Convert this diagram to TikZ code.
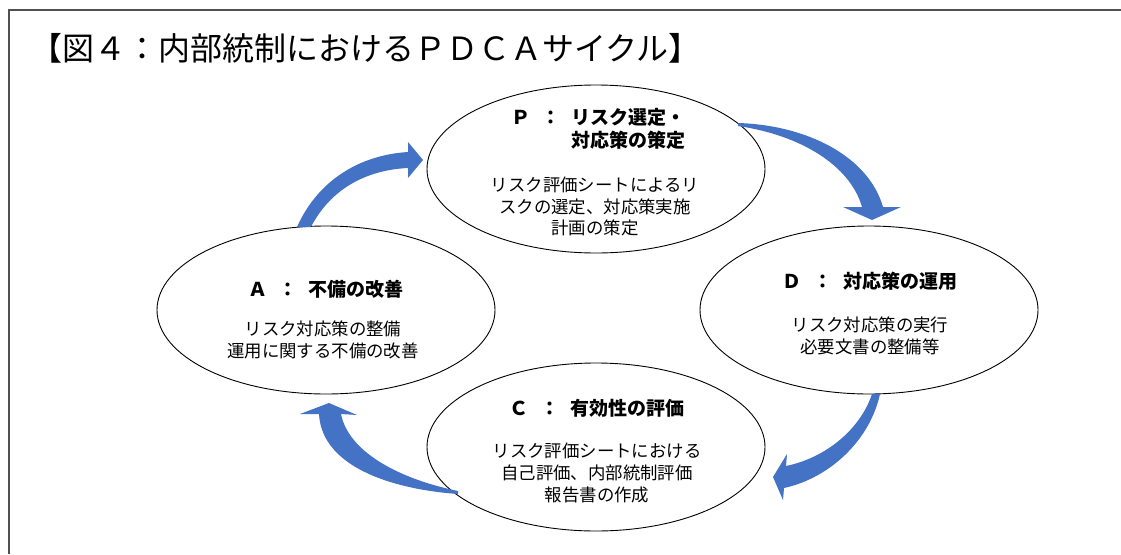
\documentclass[tikz,border=0pt]{standalone}
\usepackage{fontspec}
\setmainfont{Noto Sans CJK JP}
\usetikzlibrary{shapes.geometric}
\definecolor{arrowblue}{HTML}{4472C4}
\definecolor{framegray}{HTML}{505050}
\begin{document}
\begin{tikzpicture}[x=1pt,y=-1pt,
  phase/.style={ellipse, draw=black, line width=0.9pt, minimum width=338pt, minimum height=168pt, inner sep=0pt},
  headtext/.style={font=\fontsize{19}{23}\selectfont\bfseries, inner sep=0pt},
  bodytext/.style={font=\fontsize{17.4}{21.8}\selectfont, align=center, inner sep=0pt},
  blockarrow/.style={fill=arrowblue, draw=none}]
\useasboundingbox (0,0) rectangle (1121,554);
\fill[white] (0,0) rectangle (1121,554);
% frame
\draw[framegray, line width=2pt] (9,554) -- (9,10) -- (1121,10);
% title
\node[anchor=west, font=\fontsize{32}{32}\selectfont, inner sep=0pt] (title) at (30,48) {【図４：内部統制におけるＰＤＣＡサイクル】};
% ellipses
\node[phase] (P) at (596,169) {};
\node[phase] (D) at (869,310) {};
\node[phase] (C) at (596,447) {};
\node[phase] (A) at (326,310) {};
% headings
\node[headtext, align=right, anchor=east] (Ph) at (686,128.5) {Ｐ\hspace{0.6em}：\hspace{0.6em}リスク選定・\\対応策の策定};
\node[headtext] (Dh) at (870,281) {Ｄ\hspace{0.6em}：\hspace{0.6em}対応策の運用};
\node[headtext] (Ch) at (597,408) {Ｃ\hspace{0.6em}：\hspace{0.6em}有効性の評価};
\node[headtext] (Ah) at (326,289) {Ａ\hspace{0.6em}：\hspace{0.6em}不備の改善};
% bodies
\node[bodytext] (Pb) at (595,206.5) {リスク評価シートによるリ\\スクの選定、対応策実施\\計画の策定};
\node[bodytext] (Db) at (870,336) {リスク対応策の実行\\必要文書の整備等};
\node[bodytext] (Cb) at (597,473) {リスク評価シートにおける\\自己評価、内部統制評価\\報告書の作成};
\node[bodytext] (Ab) at (323,339.5) {リスク対応策の整備\\運用に関する不備の改善};
% arrows
% A -> P
\fill[blockarrow] (297,227) .. controls (318,180) and (360,155) .. (408,152)
  -- (408,142) -- (423,160) -- (408,178) -- (408,168)
  .. controls (365,170) and (330,190) .. (311,227) -- cycle;
% P -> D
\fill[blockarrow] (738,123) .. controls (805,125) and (868,155) .. (883,207)
  -- (901,207) -- (872,220) -- (843,207) -- (862,207)
  .. controls (850,165) and (800,135) .. (738,126) -- cycle;
% D -> C
\fill[blockarrow] (880,394) .. controls (870,440) and (830,478) .. (784,488)
  -- (783,500) -- (773,477) -- (787,454) -- (786,466)
  .. controls (825,458) and (860,430) .. (872,394) -- cycle;
% C -> A
\fill[blockarrow] (458,494) .. controls (400,490) and (322,470) .. (319,414)
  -- (300,414) -- (329,403) -- (357,415) -- (341,414)
  .. controls (348,450) and (395,478) .. (458,491) -- cycle;
\end{tikzpicture}
\end{document}
